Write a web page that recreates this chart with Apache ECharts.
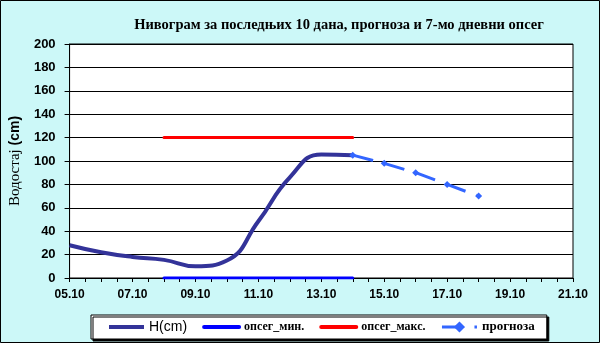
<!DOCTYPE html>
<html>
<head>
<meta charset="utf-8">
<script src="https://cdn.jsdelivr.net/npm/echarts@6/dist/echarts.min.js"></script>
<style>
html,body{margin:0;padding:0;background:#ccf8f8;}
#c{width:600px;height:343px;}
</style>
</head>
<body>
<div id="c"></div>
<script>
// X axis tick labels (every day, labels shown every 2 days)
const dates = ['05.10','06.10','07.10','08.10','09.10','10.10','11.10','12.10','13.10','14.10','15.10','16.10','17.10','18.10','19.10','20.10','21.10'];
// Observed water level H(cm), 05.10 .. 14.10
const hDates = ['05.10','06.10','07.10','08.10','09.10','10.10','11.10','12.10','13.10','14.10'];
const hValues = [28, 22, 18, 15.5, 10, 15, 48.5, 86, 105.5, 105];
// Forecast 14.10 .. 18.10
const fDates = ['14.10','15.10','16.10','17.10','18.10'];
const fValues = [105, 98, 90, 80, 70];
// 7-day range
const rangeDates = ['08.10','09.10','10.10','11.10','12.10','13.10','14.10'];
const rangeMin = [0, 0, 0, 0, 0, 0, 0];
const rangeMax = [120, 120, 120, 120, 120, 120, 120];

const yTicks = [0, 20, 40, 60, 80, 100, 120, 140, 160, 180, 200];

const idx = d => dates.indexOf(d);
const pairs = (ds, vs) => ds.map((d, i) => [idx(d), vs[i]]);

const hiddenSym = {color: 'transparent', borderWidth: 0, opacity: 0};

const chart = echarts.init(document.getElementById('c'), null, {renderer: 'canvas'});
chart.setOption({
  animation: false,
  backgroundColor: '#ccf8f8',
  title: {
    text: 'Нивограм за последњих 10 дана, прогноза и 7-мо дневни опсег',
    left: 334, top: 13, textAlign: 'center',
    textStyle: {fontFamily: 'Liberation Serif', fontWeight: 'bold', fontSize: 14.5, color: '#000'}
  },
  grid: {left: 67, right: 27, top: 44, bottom: 65, show: true, backgroundColor: '#fff', borderColor: '#000', borderWidth: 1},
  xAxis: {
    type: 'value', min: 0, max: dates.length - 1, interval: 2,
    axisLine: {lineStyle: {color: '#000', width: 1}},
    axisTick: {show: true, length: 4, lineStyle: {color: '#000'}},
    minorTick: {show: true, splitNumber: 4, length: 4, lineStyle: {color: '#000'}},
    splitLine: {show: false},
    axisLabel: {
      formatter: v => dates[v] || '', margin: 11,
      fontFamily: 'Liberation Sans', fontWeight: 'bold', fontSize: 12, color: '#000'
    }
  },
  yAxis: {
    type: 'value', min: yTicks[0], max: yTicks[yTicks.length - 1], interval: 20,
    name: '{a|Водостај }{b|(cm)}', nameLocation: 'middle', nameGap: 39, nameRotate: 90,
    nameTextStyle: {rich: {
      a: {fontFamily: 'Liberation Serif', fontSize: 15, color: '#000'},
      b: {fontFamily: 'Liberation Sans', fontWeight: 'bold', fontSize: 14, color: '#000'}
    }},
    axisLine: {show: true, lineStyle: {color: '#000', width: 1}},
    axisTick: {show: true, length: 5, lineStyle: {color: '#000'}},
    splitLine: {show: true, lineStyle: {color: '#000', width: 1}},
    axisLabel: {margin: 14, fontFamily: 'Liberation Sans', fontWeight: 'bold', fontSize: 13, color: '#000'}
  },
  legend: {
    left: 91, top: 315, padding: [5, 12, 5, 16], itemGap: 15, itemWidth: 35, itemHeight: 14,
    backgroundColor: '#fff', borderColor: '#000', borderWidth: 1,
    shadowColor: '#000', shadowBlur: 0, shadowOffsetX: 2, shadowOffsetY: 2,
    data: [
      {name: 'H(cm)', itemStyle: hiddenSym, lineStyle: {width: 4},
       textStyle: {fontFamily: 'Liberation Sans', fontSize: 14, color: '#000'}},
      {name: 'опсег_мин.', itemStyle: hiddenSym, lineStyle: {width: 4},
       textStyle: {fontFamily: 'Liberation Serif', fontWeight: 'bold', fontSize: 12, color: '#000'}},
      {name: 'опсег_макс.', itemStyle: hiddenSym, lineStyle: {width: 4},
       textStyle: {fontFamily: 'Liberation Serif', fontWeight: 'bold', fontSize: 12, color: '#000'}},
      {name: 'прогноза', lineStyle: {width: 3},
       textStyle: {fontFamily: 'Liberation Serif', fontWeight: 'bold', fontSize: 13, color: '#000'}}
    ]
  },
  graphic: [{type: 'rect', shape: {x: 0.5, y: 0.5, width: 599, height: 342}, style: {fill: null, stroke: '#000', lineWidth: 1}, z: 100, silent: true}],
  series: [
    {name: 'H(cm)', type: 'line', data: pairs(hDates, hValues), smooth: 0.5, symbol: 'none',
     lineStyle: {color: '#333399', width: 4}, itemStyle: {color: '#333399'}, z: 3},
    {name: 'опсег_мин.', type: 'line', data: pairs(rangeDates, rangeMin), symbol: 'none',
     lineStyle: {color: '#0000ff', width: 3, cap: 'round'}, itemStyle: {color: '#0000ff'}, z: 4},
    {name: 'опсег_макс.', type: 'line', data: pairs(rangeDates, rangeMax), symbol: 'none',
     lineStyle: {color: '#ff0000', width: 3, cap: 'round'}, itemStyle: {color: '#ff0000'}, z: 4},
    {name: 'прогноза', type: 'line', data: pairs(fDates, fValues), symbol: 'diamond', symbolSize: 7,
     showAllSymbol: true,
     lineStyle: {color: '#3366ff', width: 3, type: [21, 11.5]}, itemStyle: {color: '#3366ff'}, z: 5}
  ]
});
</script>
</body>
</html>
